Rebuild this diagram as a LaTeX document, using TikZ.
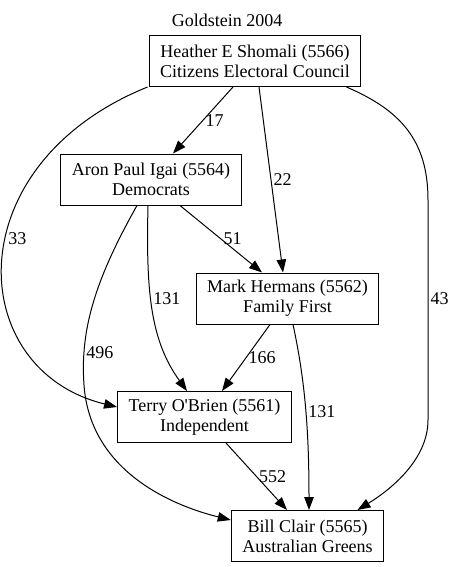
\documentclass[tikz,border=0pt]{standalone}
\usepackage{fontspec}
\setmainfont{Liberation Serif}
\newfontfamily\gvfont{Liberation Serif}
\usepackage{tikz}
\usetikzlibrary{positioning,calc}
\usetikzlibrary{arrows.meta}
\tikzstyle{arrow} = [line width=1pt,-{Triangle[length=13pt,width=9.5pt]}]

\begin{document}
\begin{tikzpicture}[x=1pt,y=-1pt,candidate/.style={rectangle, draw, line width=1pt, align=center, inner xsep=11pt, minimum height=51pt, font=\gvfont\fontsize{18}{20}\selectfont}, votes/.style={font=\gvfont\fontsize{18}{20}\selectfont, inner sep=2pt}]

	\useasboundingbox (0,0) rectangle (453,567);

	% CANDIDATES

	\node [votes] (electorate) at (227,20) {Goldstein 2004};

	\node [candidate] (shomali) at (255,61) {Heather E Shomali (5566)\\Citizens Electoral Council};
	\node [candidate] (igai) at (151,179.5) {Aron Paul Igai (5564)\\Democrats};
	\node [candidate] (hermans) at (287.5,298.5) {Mark Hermans (5562)\\Family First};
	\node [candidate] (obrien) at (204.5,417) {Terry O\char"0027 Brien (5561)\\Independent};
	\node [candidate] (clair) at (307.5,536) {Bill Clair (5565)\\Australian Greens};

	% PREFERENCE FLOWS

	\draw [arrow] ($(shomali.south)+(-22,0)$) -- node[votes,right] {17} ($(igai.north)+(22,0)$);
	\draw [arrow] ($(shomali.south)+(4,0)$) -- node[votes,right] {22} ($(hermans.north)+(-4.5,0)$);
	\draw [arrow] ($(shomali.south west)+(-1,0)$) .. controls (-45,165) and (-35,370) .. node[votes,pos=0.44,right] {33} ($(obrien.west)+(0,-10)$);
	\draw [arrow] ($(shomali.south east)+(-15,0)$) .. controls (400,110) and (428,140) .. (428,200) -- node[votes,pos=0.45,right] {43} (428,420) .. controls (428,460) and (390,490) .. ($(clair.north)+(50,0)$);

	\draw [arrow] ($(igai.south)+(29,0)$) -- node[votes,right] {51} ($(hermans.north)+(-25.5,0)$);
	\draw [arrow] ($(igai.south)+(-3,0)$) .. controls (146,290) and (150,340) .. node[votes,pos=0.43,right] {131} ($(obrien.north)+(-17.5,0)$);
	\draw [arrow] ($(igai.south)+(-14,0)$) .. controls (95,280) and (80,330) .. (84,385) node[votes,pos=0.8,right] {496} .. controls (90,470) and (170,505) .. ($(clair.west)+(0,-16)$);

	\draw [arrow] ($(hermans.south)+(-17.5,0)$) -- node[votes,right] {166} ($(obrien.north)+(17.5,0)$);
	\draw [arrow] ($(hermans.south)+(5.5,0)$) .. controls (305,380) and (309,430) .. node[votes,pos=0.52,right] {131} ($(clair.north)+(1.5,0)$);

	\draw [arrow] ($(obrien.south)+(21.5,0)$) -- node[votes,right] {552} ($(clair.north)+(-20.5,0)$);

\end{tikzpicture}
\end{document}
